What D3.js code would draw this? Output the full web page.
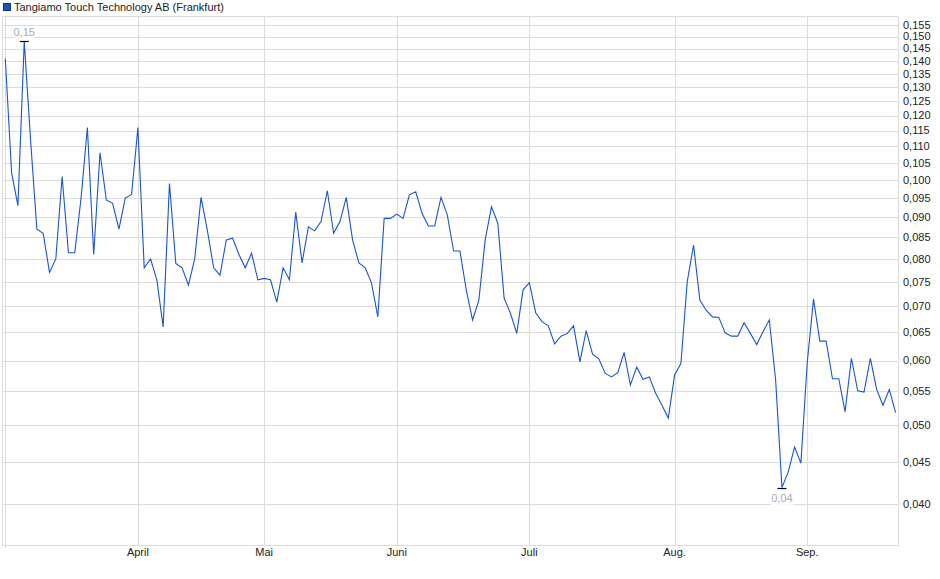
<!DOCTYPE html>
<html><head><meta charset="utf-8">
<script src="https://cdn.jsdelivr.net/npm/d3@7/dist/d3.min.js"></script>
<style>
html,body{margin:0;padding:0;background:#fff;}
svg{display:block;font-family:"Liberation Sans",Arial,sans-serif;}
</style></head>
<body>
<svg id="chart" width="940" height="579"></svg>
<script>
const title = "Tangiamo Touch Technology AB (Frankfurt)";
const values = [
 0.141,0.102,0.093,0.148,0.112,0.087,0.086,0.077,0.080,0.101,
 0.0814,0.0814,0.095,0.116,0.081,0.108,0.0945,0.0936,0.087,0.095,
 0.096,0.116,0.078,0.080,0.0754,0.066,0.099,0.079,0.078,0.0743,
 0.080,0.0952,0.0867,0.078,0.0764,0.0844,0.0848,0.081,0.078,0.0813,
 0.0754,0.0757,0.0754,0.0708,0.078,0.0754,0.0913,0.0791,0.0876,0.0866,
 0.0889,0.097,0.086,0.0889,0.0952,0.0844,0.0791,0.078,0.0747,0.0679,
 0.0897,0.0897,0.0908,0.0897,0.0959,0.0967,0.091,0.0878,0.0878,0.0952,
 0.0906,0.0818,0.0818,0.0733,0.0673,0.0712,0.0844,0.0927,0.0885,0.0716,
 0.0686,0.0648,0.0733,0.0748,0.0687,0.067,0.0662,0.0629,0.0643,0.0648,
 0.0662,0.0598,0.0653,0.0611,0.0603,0.0579,0.0573,0.058,0.0614,0.056,
 0.0589,0.0569,0.0573,0.0547,0.0529,0.051,0.0576,0.0595,0.075,0.0832,
 0.0712,0.0692,0.0679,0.0678,0.0649,0.0643,0.0643,0.0668,0.0648,0.0628,
 0.0651,0.0673,0.0568,0.0419,0.0438,0.047,0.0449,0.0596,0.0714,0.0634,
 0.0634,0.057,0.057,0.0519,0.0604,0.0551,0.0549,0.0604,0.0553,0.0529,
 0.0553,0.0518
];
const monthIndex = [0, 21, 41, 62, 83, 106, 127];
const monthLabels = ["", "April", "Mai", "Juni", "Juli", "Aug.", "Sep."];
const yTicks = [0.040,0.045,0.050,0.055,0.060,0.065,0.070,0.075,0.080,0.085,0.090,0.095,
  0.100,0.105,0.110,0.115,0.120,0.125,0.130,0.135,0.140,0.145,0.150,0.155];

const svg = d3.select("#chart");
const plot = {left: 2.5, right: 898.5, top: 16.5, bottom: 545.5};
const lineColor = "#1a56c8";
const gridColor = "#dcdcdc";

const x = d3.scaleLinear().domain([0, values.length - 1]).range([5.3, 895.6]);
const y = d3.scaleLog().domain([0.04, 0.155]).range([504, 25]);
const fmt3 = d3.format(".3f"), fmt2 = d3.format(".2f");
const comma = s => s.replace(".", ",");

// horizontal grid
svg.append("g").selectAll("line").data(yTicks).join("line")
  .attr("x1", plot.left).attr("x2", plot.right)
  .attr("y1", d => Math.round(y(d)) + 0.5).attr("y2", d => Math.round(y(d)) + 0.5)
  .attr("stroke", gridColor).attr("stroke-width", 1);

// vertical grid
svg.append("g").selectAll("line").data(monthIndex).join("line")
  .attr("x1", d => Math.round(x(d)) + 0.5).attr("x2", d => Math.round(x(d)) + 0.5)
  .attr("y1", plot.top).attr("y2", (d, i) => i === 0 ? plot.bottom + 3 : plot.bottom)
  .attr("stroke", gridColor).attr("stroke-width", 1);

// frame
svg.append("rect")
  .attr("x", plot.left).attr("y", plot.top)
  .attr("width", plot.right - plot.left).attr("height", plot.bottom - plot.top)
  .attr("fill", "none").attr("stroke", gridColor).attr("stroke-width", 1);

// y labels (right)
svg.append("g").selectAll("text").data(yTicks).join("text")
  .attr("x", 903).attr("y", d => y(d)).attr("dy", "0.35em")
  .attr("font-size", 11).attr("fill", "#222")
  .text(d => comma(fmt3(d)));

// x labels
svg.append("g").selectAll("text").data(monthIndex).join("text")
  .attr("x", d => x(d)).attr("y", 556)
  .attr("text-anchor", "middle").attr("font-size", 11).attr("fill", "#222")
  .text((d, i) => monthLabels[i]);

// line
const line = d3.line().x((d, i) => x(i)).y(d => y(d));
svg.append("path").datum(values)
  .attr("d", line).attr("fill", "none")
  .attr("stroke", lineColor).attr("stroke-width", 1.1)
  .attr("stroke-linejoin", "miter");

// max / min markers
const iMax = d3.maxIndex(values), iMin = d3.minIndex(values);
function marker(i, above) {
  const px = x(i), py = Math.round(y(values[i])) + 0.5;
  svg.append("line").attr("x1", px - 4.5).attr("x2", px + 4.5)
    .attr("y1", py).attr("y2", py).attr("stroke", "#000").attr("stroke-width", 1.2);
  const ty = above ? py - 9 : py + 10;
  const label = comma(fmt2(values[i]));
  svg.append("rect").attr("x", px - 11).attr("y", ty - 6.5).attr("width", 22).attr("height", 13)
    .attr("fill", "#fff").attr("opacity", 0.85);
  svg.append("text").attr("x", px).attr("y", ty).attr("dy", "0.35em")
    .attr("text-anchor", "middle").attr("font-size", 11).attr("fill", "#a6adb8")
    .text(label);
}
marker(iMax, true);
marker(iMin, false);

// legend / title
svg.append("rect").attr("x", 3.5).attr("y", 3.5).attr("width", 7).attr("height", 7)
  .attr("fill", lineColor).attr("stroke", "#1a2f66").attr("stroke-width", 1);
svg.append("text").attr("x", 14).attr("y", 11).attr("font-size", 11).attr("fill", "#222")
  .text(title);
</script>
</body></html>
